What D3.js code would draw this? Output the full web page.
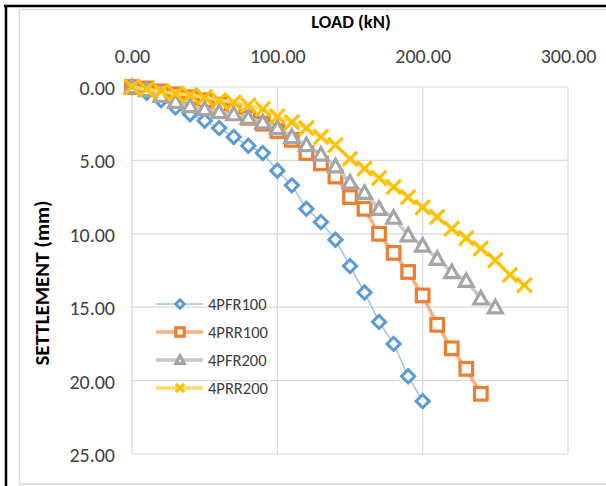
<!DOCTYPE html>
<html><head><meta charset="utf-8">
<script src="https://cdn.jsdelivr.net/npm/d3@7"></script>
<style>body{margin:0;background:#fff;} svg{display:block;}</style>
</head><body>
<script>
const loads = d3.range(0, 280, 10);
const xTicks = [0, 100, 200, 300];
const yTicks = [0, 5, 10, 15, 20, 25];
const seriesNames = ["4PFR100", "4PRR100", "4PFR200", "4PRR200"];
const pfr100 = [0, 0.4, 0.9, 1.4, 1.85, 2.3, 2.8, 3.4, 4.0, 4.5, 5.7, 6.7, 8.3, 9.2, 10.4, 12.2, 14.0, 16.0, 17.5, 19.7, 21.4];
const prr100 = [0, 0.1, 0.3, 0.5, 0.7, 0.9, 1.2, 1.6, 2.1, 2.5, 3.0, 3.6, 4.5, 5.2, 6.1, 7.5, 8.3, 10.0, 11.3, 12.6, 14.2, 16.2, 17.8, 19.2, 20.9];
const pfr200 = [0, 0.2, 0.6, 1.0, 1.3, 1.5, 1.7, 1.85, 2.1, 2.4, 2.8, 3.4, 3.95, 4.6, 5.4, 6.5, 7.2, 8.3, 8.9, 10.1, 10.8, 11.7, 12.6, 13.2, 14.4, 15.0];
const prr200 = [0, 0.15, 0.3, 0.45, 0.55, 0.7, 0.9, 1.05, 1.25, 1.5, 2.0, 2.4, 2.8, 3.4, 3.95, 4.9, 5.55, 6.2, 6.8, 7.5, 8.2, 8.85, 9.65, 10.3, 11.0, 11.8, 12.8, 13.5];

const W = 606, H = 486;
const svg = d3.select("body").append("svg").attr("width", W).attr("height", H);
const FONT = "Carlito, Lato, 'Liberation Sans', sans-serif";
const TXT = "#404040";

// frames
svg.append("rect").attr("x", 19.5).attr("y", 9.5).attr("width", 600).attr("height", 474.5)
  .attr("fill", "#fff").attr("stroke", "#d9d9d9").attr("stroke-width", 1.5);
svg.append("line").attr("x1", 4).attr("x2", W).attr("y1", 6).attr("y2", 6).attr("stroke", "#000").attr("stroke-width", 2.5);
svg.append("line").attr("x1", 6).attr("x2", 6).attr("y1", 5).attr("y2", H).attr("stroke", "#000").attr("stroke-width", 2.5);

const x = d3.scaleLinear().domain([0, 300]).range([132, 568]);
const y = d3.scaleLinear().domain([0, 25]).range([87, 454]);

// gridlines
const grid = svg.append("g");
grid.selectAll(".vg").data(xTicks).join("line")
  .attr("x1", d => x(d)).attr("x2", d => x(d)).attr("y1", y(0)).attr("y2", y(25))
  .attr("stroke", "#d9d9d9").attr("stroke-width", 1.2);
grid.selectAll(".hg").data(yTicks).join("line")
  .attr("y1", d => y(d)).attr("y2", d => y(d)).attr("x1", x(0)).attr("x2", x(300))
  .attr("stroke", "#d9d9d9").attr("stroke-width", 1.2);

// axes (labels only)
const xAxis = d3.axisTop(x).tickValues(xTicks).tickFormat(d3.format(".2f")).tickSize(0).tickPadding(0);
const gx = svg.append("g").attr("transform", "translate(0,63)").call(xAxis);
gx.select(".domain").remove();
gx.selectAll("text").attr("font-family", FONT).attr("font-size", 20).attr("fill", TXT);

const yAxis = d3.axisLeft(y).tickValues(yTicks).tickFormat(d3.format(".2f")).tickSize(0).tickPadding(0);
const gy = svg.append("g").attr("transform", "translate(115,1)").call(yAxis);
gy.select(".domain").remove();
gy.selectAll("text").attr("font-family", FONT).attr("font-size", 20).attr("fill", TXT);

svg.append("text").attr("x", 351).attr("y", 28).attr("text-anchor", "middle")
  .attr("font-family", FONT).attr("font-size", 18.5).attr("font-weight", "bold").attr("fill", "#000")
  .text("LOAD (kN)");
svg.append("text").attr("transform", "translate(49,283) rotate(-90)").attr("text-anchor", "middle")
  .attr("font-family", FONT).attr("font-size", 21).attr("font-weight", "bold").attr("fill", "#000")
  .text("SETTLEMENT (mm)");

const series = [
  {name: seriesNames[0], vals: pfr100, color: "#5B9BD5", line: "#9DC3E6", lw: 1.5, shape: "diamond"},
  {name: seriesNames[1], vals: prr100, color: "#ED7D31", line: "#F4B183", lw: 3.5, shape: "square"},
  {name: seriesNames[2], vals: pfr200, color: "#A5A5A5", line: "#C9C9C9", lw: 3.5, shape: "triangle"},
  {name: seriesNames[3], vals: prr200, color: "#FFC000", line: "#FFD966", lw: 3.5, shape: "x"}
];

function marker(g, shape, color, s) {
  if (shape === "diamond") {
    g.append("path").attr("d", `M0,${-s}L${s},0L0,${s}L${-s},0Z`).attr("fill", "#fff").attr("stroke", color).attr("stroke-width", 3);
  } else if (shape === "square") {
    g.append("rect").attr("x", -s).attr("y", -s).attr("width", 2 * s).attr("height", 2 * s).attr("fill", "#fff").attr("stroke", color).attr("stroke-width", 3.2);
  } else if (shape === "triangle") {
    g.append("path").attr("d", `M0,${-s * 1.0}L${s},${s * 0.8}L${-s},${s * 0.8}Z`).attr("fill", "#fff").attr("stroke", color).attr("stroke-width", 3.2);
  } else {
    g.append("path").attr("d", `M${-s},${-s}L${s},${s}M${s},${-s}L${-s},${s}`).attr("fill", "none").attr("stroke", color).attr("stroke-width", 3.2);
  }
}
const sizes = {diamond: 6.6, square: 6.3, triangle: 7, x: 7.3};

const lineGen = d3.line().x((d, i) => x(loads[i])).y(d => y(d));
series.forEach(s => {
  const g = svg.append("g");
  g.append("path").datum(s.vals).attr("d", lineGen).attr("fill", "none")
    .attr("stroke", s.line).attr("stroke-width", s.lw);
  s.vals.forEach((v, i) => {
    const mg = g.append("g").attr("transform", `translate(${x(loads[i])},${y(v)})`);
    marker(mg, s.shape, s.color, sizes[s.shape]);
  });
});

// legend
const legY = [304, 332, 360, 388];
series.forEach((s, i) => {
  const g = svg.append("g").attr("transform", `translate(0,${legY[i]})`);
  g.append("line").attr("x1", 156).attr("x2", 203).attr("y1", 0).attr("y2", 0)
    .attr("stroke", s.line).attr("stroke-width", s.lw);
  const mg = g.append("g").attr("transform", "translate(180,0)");
  marker(mg, s.shape, s.color, 4.2);
  g.append("text").attr("x", 208).attr("y", 6).attr("font-family", FONT).attr("font-size", 16.5)
    .attr("fill", TXT).text(s.name);
});
</script>
</body></html>
